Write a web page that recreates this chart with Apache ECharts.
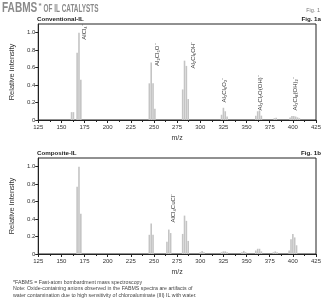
<!DOCTYPE html>
<html><head><meta charset="utf-8">
<script src="https://cdn.jsdelivr.net/npm/echarts@6/dist/echarts.min.js"></script>
<style>html,body{margin:0;padding:0;background:#fff}#c{width:325px;height:304px}</style>
</head><body><div id="c"></div>
<script>
// ---- data ----
const yTickValues = [0, 0.2, 0.4, 0.6, 0.8, 1.0];
const xMin = 125, xMax = 425, xStep = 25;

const convMz  = [161, 163, 167, 169, 171, 245, 247, 249, 251, 281, 283, 285, 287, 323, 325, 327, 329, 360, 362, 364, 366, 380, 382, 397, 399, 401, 403, 405, 407];
const convInt = [0.09, 0.09, 0.77, 1.0, 0.46, 0.42, 0.66, 0.42, 0.13, 0.35, 0.68, 0.62, 0.24, 0.06, 0.14, 0.10, 0.04, 0.05, 0.10, 0.11, 0.05, 0.02, 0.025, 0.03, 0.045, 0.045, 0.04, 0.03, 0.02];

const compMz  = [167, 169, 171, 245, 247, 249, 264, 266, 268, 281, 283, 285, 287, 300, 302, 304, 323, 325, 327, 329, 345, 347, 349, 360, 362, 364, 366, 379, 381, 383, 396, 398, 400, 402, 404];
const compInt = [0.77, 1.0, 0.46, 0.22, 0.35, 0.22, 0.14, 0.28, 0.24, 0.23, 0.44, 0.38, 0.15, 0.02, 0.035, 0.02, 0.02, 0.03, 0.03, 0.02, 0.02, 0.035, 0.02, 0.04, 0.06, 0.06, 0.03, 0.02, 0.03, 0.02, 0.04, 0.17, 0.23, 0.19, 0.10];

const convLabels   = ['AlCl₄⁻', 'Al₂Cl₅O⁻', 'Al₂Cl₆OH⁻', 'Al₃Cl₆O₂⁻', 'Al₃Cl₇O(OH)⁻', 'Al₃Cl₈(OH)₂⁻'];
const convLabelMz  = [175, 254, 292, 326.5, 364.5, 403];
const convLabelY   = [0.92, 0.62, 0.59, 0.20, 0.11, 0.11];
const compLabels   = ['AlCl₄CuCl⁻'];
const compLabelMz  = [270.5];
const compLabelY   = [0.36];

const panelTitles = ['Conventional-IL', 'Composite-IL'];
const panelFigs   = ['Fig. 1a', 'Fig. 1b'];
const footnotes = [
  '*FABMS = Fast-atom bombardment mass spectroscopy',
  'Note: Oxide-containing anions observed in the FABMS spectra are artifacts of',
  'water contamination due to high sensitivity of chloroaluminate (III) IL with water.'
];

// ---- chart ----
const chart = echarts.init(document.getElementById('c'), null, {renderer: 'canvas'});
const AX = '#222';
const gridTops = [24, 158];
const grids = gridTops.map(t => ({left: 36, right: 9, top: t, height: 96, show: true, borderColor: AX, borderWidth: 1, backgroundColor: 'transparent'}));

function xAxis(i) {
  return {
    type: 'value', gridIndex: i, min: xMin, max: xMax, interval: xStep,
    name: 'm/z', nameLocation: 'middle', nameGap: 15,
    nameTextStyle: {fontSize: 7, color: '#333', fontFamily: 'Liberation Sans'},
    axisLine: {show: true, lineStyle: {color: AX, width: 1}},
    axisTick: {show: true, length: 3, lineStyle: {color: AX}},
    minorTick: {show: true, splitNumber: 2, length: 2, lineStyle: {color: AX}},
    axisLabel: {fontSize: 6, color: '#333', margin: 4, fontFamily: 'Liberation Sans'},
    splitLine: {show: false}
  };
}
function yAxis(i) {
  return {
    type: 'value', gridIndex: i, min: 0, max: 1.1, interval: 0.1,
    name: 'Relative intensity', nameLocation: 'middle', nameGap: 21,
    nameTextStyle: {fontSize: 7.5, color: '#333', fontFamily: 'Liberation Sans'},
    axisLine: {show: true, lineStyle: {color: AX, width: 1}},
    axisTick: {show: true, length: 3, lineStyle: {color: AX}, customValues: yTickValues},
    axisLabel: {fontSize: 6, color: '#333', margin: 3, fontFamily: 'Liberation Sans',
      customValues: yTickValues,
      formatter: v => (v === 0 ? '0' : v.toFixed(1))},
    splitLine: {show: false}
  };
}
function barSeries(i, mz, vals) {
  return {
    type: 'bar', xAxisIndex: i, yAxisIndex: i, barWidth: 1.6, silent: true,
    itemStyle: {color: '#c4c4c4'},
    data: mz.map((m, k) => [m, vals[k]])
  };
}

chart.setOption({
  animation: false,
  grid: grids,
  xAxis: [xAxis(0), xAxis(1)],
  yAxis: [yAxis(0), yAxis(1)],
  series: [barSeries(0, convMz, convInt), barSeries(1, compMz, compInt)]
});

const g = [];
const SANS = 'Liberation Sans';
// title
g.push({type: 'text', x: 2, y: 1.5, scaleX: 0.72, style: {text: 'FABMS', fontSize: 14, fontWeight: 'bold', fontFamily: SANS, fill: '#8a8a8a'}});
g.push({type: 'text', x: 38.5, y: 1.5, style: {text: '*', fontSize: 8, fontWeight: 'bold', fontFamily: SANS, fill: '#8a8a8a'}});
g.push({type: 'text', x: 43.5, y: 4.5, scaleX: 0.64, style: {text: 'OF IL CATALYSTS', fontSize: 10, fontWeight: 'bold', fontFamily: SANS, fill: '#8a8a8a'}});
g.push({type: 'text', x: 320, y: 7, style: {text: 'Fig. 1', fontSize: 5.5, fontFamily: SANS, fill: '#777', align: 'right'}});
// panel headers
gridTops.forEach((t, i) => {
  g.push({type: 'text', x: 37, y: t - 5, style: {text: panelTitles[i], fontSize: 6.2, fontWeight: 'bold', fontFamily: SANS, fill: '#222', verticalAlign: 'middle'}});
  g.push({type: 'text', x: 321, y: t - 5, style: {text: panelFigs[i], fontSize: 6.2, fontWeight: 'bold', fontFamily: SANS, fill: '#222', align: 'right', verticalAlign: 'middle'}});
});
// footnotes
footnotes.forEach((s, i) => {
  g.push({type: 'text', x: 13, y: 282 + i * 6.5, scaleX: 0.95, style: {text: s, fontSize: 5.5, fontFamily: SANS, fill: '#444', verticalAlign: 'middle'}});
});
// annotations
function addLabels(gi, labels, mzs, ys) {
  labels.forEach((s, k) => {
    const p = chart.convertToPixel({gridIndex: gi}, [mzs[k], ys[k]]);
    g.push({type: 'text', x: p[0], y: p[1], rotation: Math.PI / 2,
      style: {text: s, fontSize: 6, fontFamily: SANS, fill: '#333', align: 'left', verticalAlign: 'middle'}});
  });
}
addLabels(0, convLabels, convLabelMz, convLabelY);
addLabels(1, compLabels, compLabelMz, compLabelY);

chart.setOption({graphic: g});
</script>
</body></html>
